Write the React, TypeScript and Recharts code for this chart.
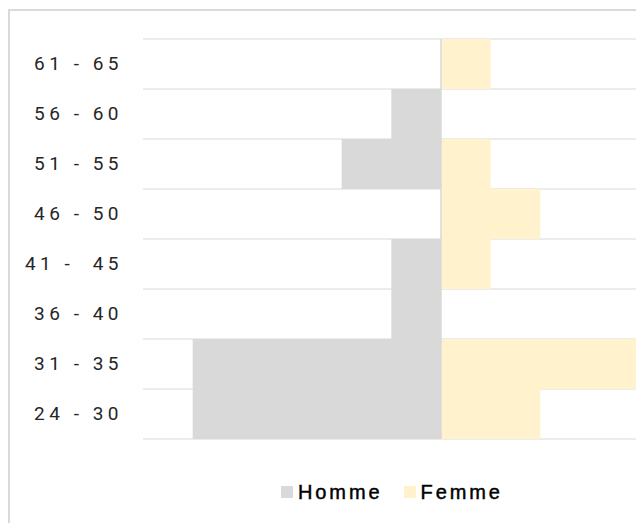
import { BarChart, Bar, XAxis, YAxis, CartesianGrid, Legend, ReferenceLine } from 'recharts'

// Age groups, top to bottom as in the pyramid
const AGE_GROUPS = ['61 - 65', '56 - 60', '51 - 55', '46 - 50', '41 -  45', '36 - 40', '31 - 35', '24 - 30']
const HOMME = [0, 1, 2, 0, 1, 1, 5, 5]
const FEMME = [1, 0, 1, 2, 1, 0, 4, 2]
const SERIES_ORDER = ['Homme', 'Femme']

const data = AGE_GROUPS.map((age, i) => ({
  age,
  homme: -HOMME[i],
  femme: FEMME[i],
}))

const GREY = '#d9d9d9'
const CREAM = '#fff2cc'

function AgeTick(props: any) {
  const { x, y, payload } = props
  return (
    <text
      x={x}
      y={y}
      dy={6}
      textAnchor="end"
      fill="#262626"
      fontSize={19}
      fontFamily="Roboto, sans-serif"
      letterSpacing={4.5}
      style={{ whiteSpace: 'pre' }}
    >
      {payload.value}
    </text>
  )
}

function LegendBox(props: any) {
  const items = [...(props.payload || [])].sort(
    (a: any, b: any) => SERIES_ORDER.indexOf(a.value) - SERIES_ORDER.indexOf(b.value),
  )
  return (
    <div
      style={{
        display: 'flex',
        alignItems: 'center',
        height: 24,
        fontFamily: '"Liberation Sans", Arial, sans-serif',
        fontSize: 20,
        letterSpacing: 2.9,
        color: '#000',
        WebkitTextStroke: '0.45px #000',
        whiteSpace: 'nowrap',
      }}
    >
      {items.map((it: any, i: number) => (
        <div key={it.value} style={{ display: 'flex', alignItems: 'center', marginRight: i === 0 ? 21 : 0 }}>
          <span style={{ display: 'inline-block', width: 12, height: 12, background: it.color, marginRight: 5 }} />
          <span>{it.value}</span>
        </div>
      ))}
    </div>
  )
}

// horizontal grid lines sit on the band edges, not on the band centres
const bandEdges = ({ offset }: any) =>
  AGE_GROUPS.map((_, i) => offset.top + (i * offset.height) / AGE_GROUPS.length).concat(offset.top + offset.height)

export default function App() {
  return (
    <div style={{ position: 'fixed', left: 0, top: 0, width: 636, height: 523, overflow: 'hidden', background: '#fff' }}>
      <div style={{ position: 'absolute', left: 8, top: 9, width: 720, height: 600, border: `2px solid ${GREY}` }} />
      <div style={{ position: 'absolute', left: 0, top: 0 }}>
        <BarChart
          width={770}
          height={523}
          data={data}
          layout="vertical"
          stackOffset="sign"
          barCategoryGap={0}
          margin={{ top: 39, right: 31, bottom: 84, left: 0 }}
        >
          <CartesianGrid vertical={false} stroke={GREY} horizontalCoordinatesGenerator={bandEdges} />
          <XAxis type="number" domain={[-6, 6]} hide />
          <YAxis
            type="category"
            dataKey="age"
            width={143}
            axisLine={false}
            tickLine={false}
            tickSize={0}
            tickMargin={20}
            tick={<AgeTick />}
            interval={0}
          />
          <Bar dataKey="homme" name="Homme" stackId="p" fill={GREY} isAnimationActive={false} />
          <Bar dataKey="femme" name="Femme" stackId="p" fill={CREAM} isAnimationActive={false} />
          <ReferenceLine x={0} stroke={GREY} strokeWidth={1.5} />
          <Legend
            layout="horizontal"
            verticalAlign="middle"
            align="center"
            content={<LegendBox />}
            wrapperStyle={{ top: 480, left: 281, width: 'auto' }}
          />
        </BarChart>
      </div>
    </div>
  )
}
